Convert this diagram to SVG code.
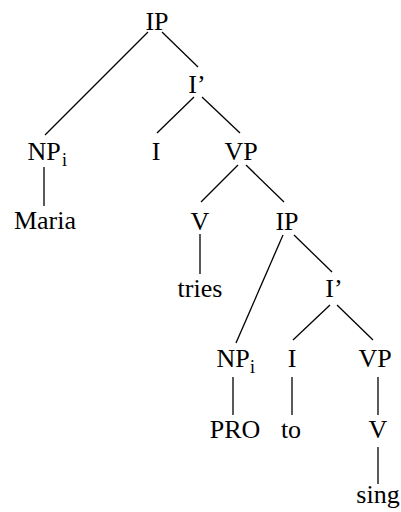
<svg xmlns="http://www.w3.org/2000/svg" width="401" height="512" viewBox="0 0 401 512">
<style>
text{font-family:"Liberation Serif","Times New Roman",serif;font-size:26px;fill:#000;text-anchor:middle}
.sub{font-size:18px;text-anchor:start}
line{stroke:#000;stroke-width:1.3}
</style>
<rect width="401" height="512" fill="#fff"/>
<g id="connectors">
<line x1="148" y1="32" x2="45" y2="135"/>
<line x1="162" y1="32" x2="198" y2="67"/>
<line x1="44" y1="167" x2="44" y2="206"/>
<line x1="194" y1="97" x2="157" y2="133"/>
<line x1="202" y1="97" x2="240" y2="133"/>
<line x1="238" y1="165" x2="201" y2="202"/>
<line x1="246" y1="165" x2="284" y2="202"/>
<line x1="200" y1="234" x2="200" y2="274"/>
<line x1="283" y1="235" x2="236" y2="343"/>
<line x1="294" y1="235" x2="332" y2="272"/>
<line x1="330" y1="305" x2="293" y2="340"/>
<line x1="337" y1="305" x2="373" y2="340"/>
<line x1="233" y1="377" x2="233" y2="415"/>
<line x1="292" y1="377" x2="292" y2="415"/>
<line x1="378" y1="377" x2="378" y2="415"/>
<line x1="378" y1="447" x2="378" y2="484"/>
</g>
<g id="ip1"><text x="157" y="30">IP</text></g>
<g id="np1"><text x="44" y="160">NP</text><text class="sub" x="62" y="166">i</text></g>
<g id="ibar1"><text x="197" y="93">I’</text></g>
<g id="i1"><text x="156" y="160">I</text></g>
<g id="vp1"><text x="241" y="160">VP</text></g>
<g id="maria"><text x="45" y="229">Maria</text></g>
<g id="v1"><text x="200" y="230">V</text></g>
<g id="ip2"><text x="287" y="230">IP</text></g>
<g id="tries"><text x="200" y="297">tries</text></g>
<g id="ibar2"><text x="334" y="297">I’</text></g>
<g id="np2"><text x="233" y="367">NP</text><text class="sub" x="250" y="373">i</text></g>
<g id="i2"><text x="292" y="367">I</text></g>
<g id="vp2"><text x="375" y="367">VP</text></g>
<g id="pro"><text x="235" y="438">PRO</text></g>
<g id="to"><text x="291" y="438">to</text></g>
<g id="v2"><text x="378" y="438">V</text></g>
<g id="sing"><text x="378" y="503">sing</text></g>
</svg>
